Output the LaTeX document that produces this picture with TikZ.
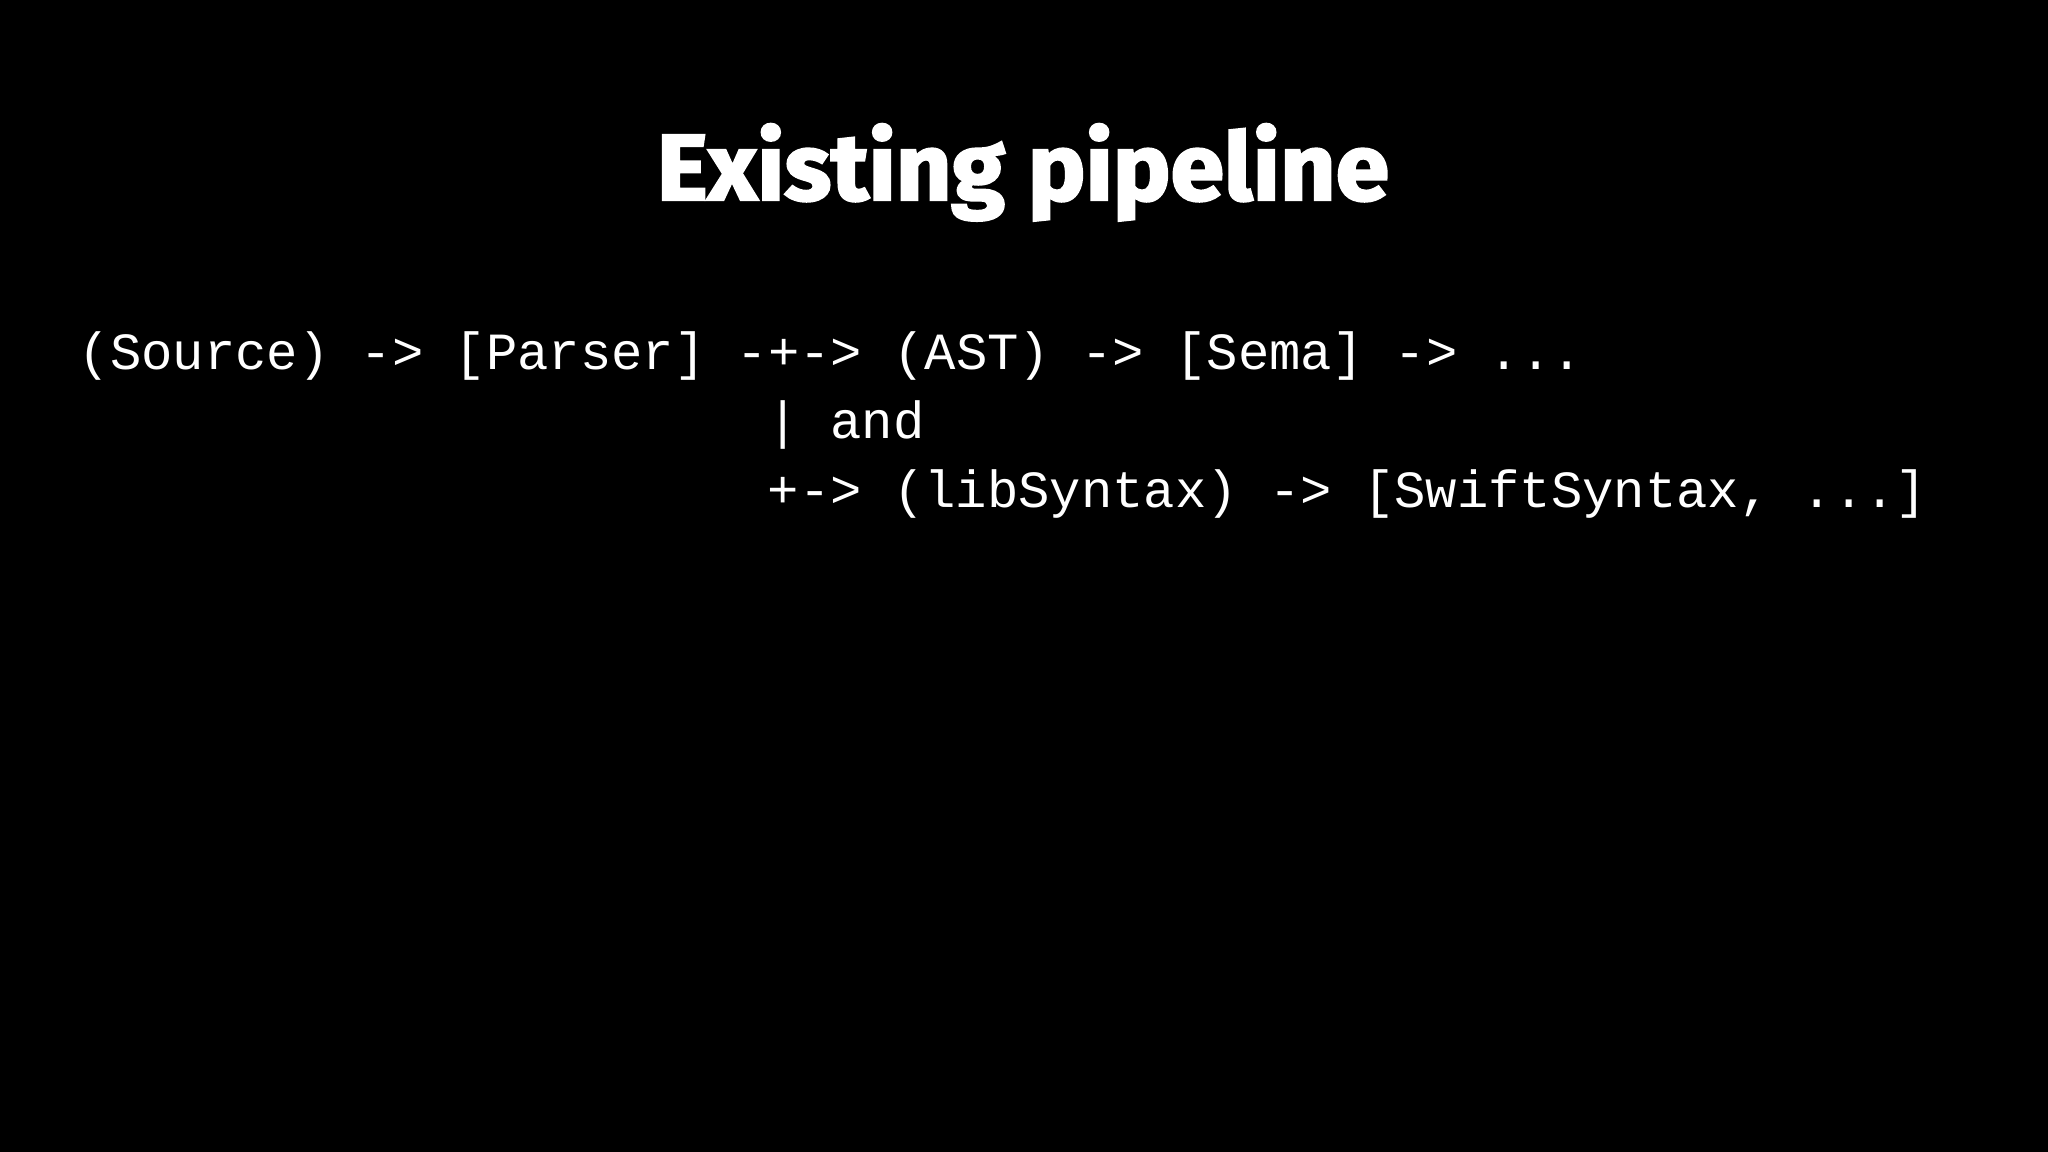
\documentclass[tikz,border=0pt]{standalone}
\usepackage{fontspec}
\setmainfont{Fira Sans}
\setmonofont{Liberation Mono}
\newfontfamily\titlefont[FakeStretch=1.03, FakeBold=2.5]{Fira Sans}
\usetikzlibrary{positioning}
\tikzset{x=0.01cm, y=-0.01cm,
    slidetitle/.style={text=white, inner sep=0pt, anchor=base,
        font=\titlefont\bfseries\fontsize{26.7}{32}\selectfont},
    codeline/.style={text=white, inner sep=0pt, anchor=base west,
        font=\ttfamily\fontsize{14.85}{18}\selectfont}}

\begin{document}
\begin{tikzpicture}
\fill[black] (0,0) rectangle (2048,1152);
\useasboundingbox (0,0) rectangle (2048,1152);

\node[slidetitle] (title) at (1023,200) {Existing pipeline};

\node[codeline] (mainline) at (78,370)  {(Source) -> [Parser] -+-> (AST) -> [Sema] -> ...};
\node[codeline] (andline)  at (767,439) {| and};
\node[codeline] (syntline) at (767,508) {+-> (libSyntax) -> [SwiftSyntax, ...]};
\end{tikzpicture}
\end{document}
